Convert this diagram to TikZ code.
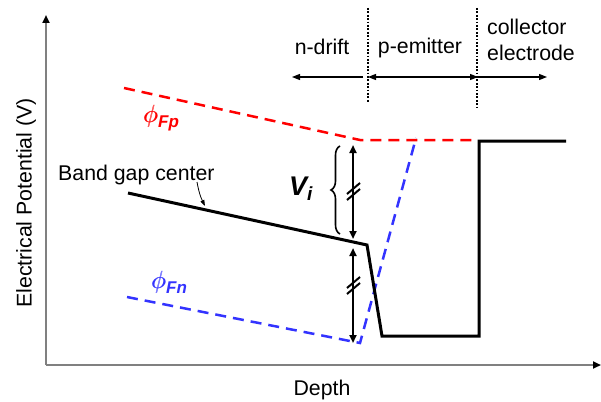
\documentclass[tikz,border=0pt]{standalone}
\usepackage{fontspec}
\setmainfont{Liberation Sans}
\usetikzlibrary{arrows.meta,decorations.pathreplacing}
\definecolor{axisgray}{RGB}{128,128,128}
\definecolor{fpred}{RGB}{255,0,0}
\definecolor{fnblue}{RGB}{51,51,255}
\newcommand{\heavyphi}{\rlap{$\phi$}\kern0.6pt$\phi$}
\begin{document}
\begin{tikzpicture}[x=1pt,y=-1pt,
  axisline/.style={draw=axisgray,line width=2pt,-{Triangle[length=8pt,width=7pt,color=black]}},
  bandline/.style={draw=black,line width=3pt,line join=miter},
  fpline/.style={draw=fpred,line width=2.5pt,dash pattern=on 11pt off 7pt},
  fnline/.style={draw=fnblue,line width=2.5pt,dash pattern=on 11pt off 7pt},
  dimarrow/.style={draw=black,line width=2pt,{Triangle[length=8pt,width=7pt]}-{Triangle[length=8pt,width=7pt]}},
  regionarrow/.style={draw=black,line width=1.3pt},
  dotline/.style={draw=black,line width=1.8pt,dash pattern=on 1.8pt off 1.6pt},
  breakmark/.style={draw=black,line width=2pt},
  lbl/.style={font=\fontsize{21.3}{26}\selectfont,inner sep=0pt},
]
\useasboundingbox (0,0) rectangle (601,401);
% axes
\coordinate (O) at (46,365);
\coordinate (Ytop) at (46,15);
\coordinate (Xend) at (601,365);
\draw[axisline] (O) -- (Ytop);
\draw[axisline] (O) -- (Xend);
\node[lbl,rotate=90] (ylab) at (26,203) {Electrical Potential (V)};
\node[lbl,anchor=base] (xlab) at (322,395) {Depth};
% region separators
\coordinate (d1t) at (368,8);
\coordinate (d1b) at (368,102);
\coordinate (d2t) at (477,8);
\coordinate (d2b) at (477,108);
\draw[dotline] (d1t) -- (d1b);
\draw[dotline] (d2t) -- (d2b);
% region labels and arrows
\node[lbl,anchor=base] (ndrift) at (322,55) {n-drift};
\node[lbl,anchor=base] (pemit) at (420,54) {p-emitter};
\node[lbl,anchor=base west] (coll) at (487,35) {collector};
\node[lbl,anchor=base west] (elec) at (487,61) {electrode};
\coordinate (a1r) at (363,77);
\coordinate (a1l) at (292,77);
\coordinate (a2l) at (368,77);
\coordinate (a2r) at (478,77);
\coordinate (a3l) at (478,77);
\coordinate (a3r) at (547,77);
\draw[regionarrow,-{Triangle[length=8pt,width=6pt]}] (a1r) -- (a1l);
\draw[regionarrow,{Triangle[length=8pt,width=6pt]}-{Triangle[length=8pt,width=6pt]}] (a2l) -- (a2r);
\draw[regionarrow,-{Triangle[length=8pt,width=6pt]}] (a3l) -- (a3r);
% quasi-Fermi levels
\coordinate (R1) at (124,88);
\coordinate (R2) at (360,140);
\coordinate (R3) at (478,140);
\draw[fpline] (R1) -- (R2) -- (R3);
\coordinate (L1) at (127,297);
\coordinate (L2) at (360,343);
\coordinate (L3) at (416,138);
\draw[fnline] (L1) -- (L2) -- (L3);
% band gap center
\coordinate (B1) at (128,193);
\coordinate (B2) at (367,245);
\coordinate (B3) at (382,336);
\coordinate (B4) at (479,336);
\coordinate (C1) at (479,141);
\coordinate (C2) at (566,141);
\draw[bandline] (B1) -- (B2) -- (B3) -- (B4) -- (C1) -- (C2);
% labels
\node[lbl,anchor=base west] (bgc) at (58,180) {Band gap center};
\coordinate (bgcs) at (197,182);
\coordinate (bgcarrow) at (205,206);
\draw[line width=0.8pt,-{Triangle[length=6pt,width=4pt]}] (bgcs) to[bend right=8] (bgcarrow);
\node[anchor=base west,inner sep=0pt,text=fpred] (phifp) at (143,122)
  {\fontsize{24.88}{26}\selectfont\heavyphi\raisebox{-5pt}{\fontsize{17}{17}\selectfont\bfseries\itshape Fp}};
\node[anchor=base west,inner sep=0pt,text=fnblue] (phifn) at (151,288)
  {\fontsize{24.88}{26}\selectfont\heavyphi\raisebox{-5pt}{\fontsize{17}{17}\selectfont\bfseries\itshape Fn}};
% V_i
\coordinate (u1) at (353,145);
\coordinate (u2) at (353,239);
\coordinate (w1) at (353,248);
\coordinate (w2) at (353,343);
\draw[dimarrow] (u1) -- (u2);
\draw[dimarrow] (w1) -- (w2);
\draw[breakmark] (347,194) -- (360,183);
\draw[breakmark] (347,200) -- (360,189);
\draw[breakmark] (347,288) -- (360,277);
\draw[breakmark] (347,294) -- (360,283);
\coordinate (brb) at (340,234);
\coordinate (brt) at (340,146);
\draw[line width=1.6pt,decorate,decoration={brace,amplitude=9pt}] (brb) -- (brt);
\node[anchor=base west,inner sep=0pt] (vi) at (289,195)
  {\fontsize{27}{28}\selectfont\bfseries\itshape V\raisebox{-5pt}{\fontsize{19}{19}\selectfont i}};
\end{tikzpicture}
\end{document}
